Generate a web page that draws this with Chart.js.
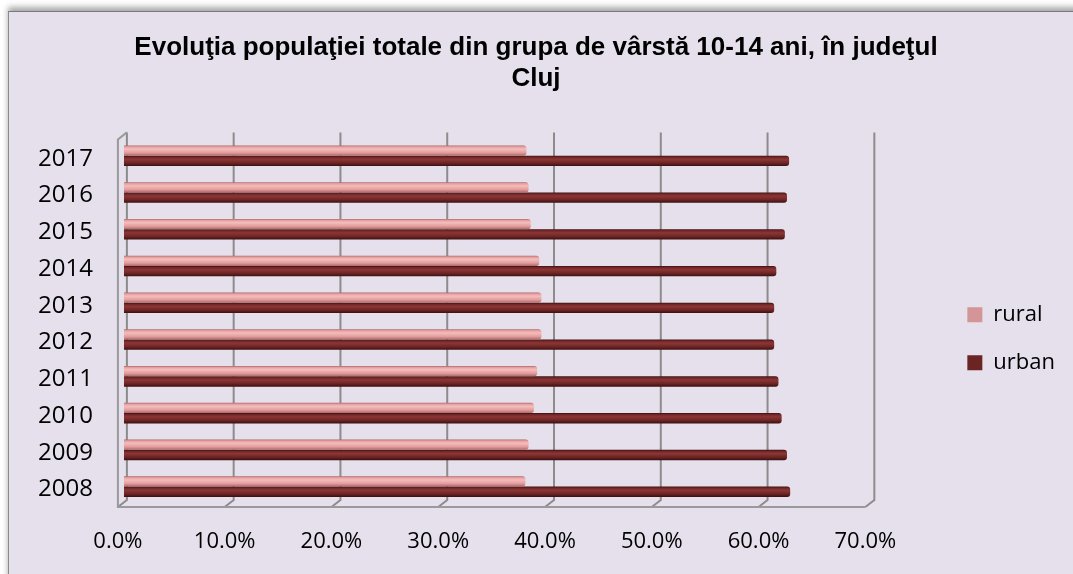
<!DOCTYPE html>
<html>
<head>
<meta charset="utf-8">
<script src="https://cdn.jsdelivr.net/npm/chart.js@4.4.1/dist/chart.umd.min.js"></script>
<style>
  html, body { margin: 0; padding: 0; width: 1073px; height: 574px; overflow: hidden; background: #fff; }
  #frame {
    position: absolute; left: 8px; top: 11px; width: 1100px; height: 600px;
    background: #E5E0EC;
    border-left: 1px solid #8a8a8a; border-top: 1px solid #7a7a7a;
    box-shadow: 0 -4px 6px rgba(0, 0, 0, 0.35);
  }
  #wrap { position: absolute; left: 0; top: 0; width: 1073px; height: 574px; }
</style>
</head>
<body>
<div id="frame"></div>
<div id="wrap"><canvas id="chart"></canvas></div>
<script>
const years = ['2008', '2009', '2010', '2011', '2012', '2013', '2014', '2015', '2016', '2017'];
const rural = [37.6, 37.9, 38.4, 38.7, 39.1, 39.1, 38.9, 38.1, 37.9, 37.7];
const urban = [62.4, 62.1, 61.6, 61.3, 60.9, 60.9, 61.1, 61.9, 62.1, 62.3];
const xTickLabels = ['0.0%', '10.0%', '20.0%', '30.0%', '40.0%', '50.0%', '60.0%', '70.0%'];
const legendColors = ['#D39595', '#6B2424'];

const sans = "'Open Sans', sans-serif";

// cylinder-ish shading across each bar
function barFill(light, mid, dark) {
  return (c) => {
    const el = c.element;
    if (!el || el.y == null || !isFinite(el.y)) return mid;
    const h = el.height || 10;
    const g = c.chart.ctx.createLinearGradient(0, el.y - h / 2, 0, el.y + h / 2);
    g.addColorStop(0, dark);
    g.addColorStop(0.12, mid);
    g.addColorStop(0.35, light);
    g.addColorStop(0.7, mid);
    g.addColorStop(1, dark);
    return g;
  };
}

// back walls, gridlines and floor edge of the 3D plot box
const frame3d = {
  id: 'frame3d',
  beforeDatasetsDraw(chart) {
    const { ctx, chartArea: a, scales: { x } } = chart;
    const back = 3, front = -6;
    const backTop = a.top - 5, backBottom = a.bottom - 5, frontBottom = a.bottom + 2;
    const x0 = x.getPixelForValue(x.min), x1 = x.getPixelForValue(x.max);
    ctx.save();
    ctx.lineWidth = 2;
    ctx.strokeStyle = '#8c8c8c';
    x.ticks.forEach(t => {
      const px = x.getPixelForValue(t.value);
      ctx.beginPath();
      ctx.moveTo(px + back, backTop);
      ctx.lineTo(px + back, backBottom);
      ctx.lineTo(px + front, frontBottom);
      ctx.stroke();
    });
    ctx.strokeStyle = '#9a9a9a';
    ctx.beginPath();
    ctx.moveTo(x0 + back, backTop);
    ctx.lineTo(x0 + front, backTop + 7);
    ctx.lineTo(x0 + front, frontBottom);
    ctx.lineTo(x1 + front, frontBottom);
    ctx.stroke();
    ctx.restore();
  }
};

const chart = new Chart(document.getElementById('chart'), {
  type: 'bar',
  data: {
    labels: years,
    datasets: [
      {
        label: 'rural',
        data: rural,
        backgroundColor: barFill('#F4BDBD', '#E49C9C', '#A86868'),
        borderWidth: 0,
        borderRadius: { topRight: 3, bottomRight: 3 },
        borderSkipped: 'start'
      },
      {
        label: 'urban',
        data: urban,
        backgroundColor: barFill('#8C3636', '#6E2525', '#3C0F0F'),
        borderWidth: 0,
        borderRadius: { topRight: 3, bottomRight: 3 },
        borderSkipped: 'start'
      }
    ]
  },
  options: {
    indexAxis: 'y',
    responsive: true,
    maintainAspectRatio: false,
    animation: false,
    layout: { padding: { left: 7, right: 8, top: 0, bottom: 0 } },
    datasets: { bar: { categoryPercentage: 0.56, barPercentage: 1 } },
    scales: {
      x: {
        min: 0,
        max: 70,
        ticks: {
          stepSize: 10,
          padding: 24,
          labelOffset: -6,
          color: '#000',
          font: { family: sans, size: 22 },
          callback: (v, i) => xTickLabels[i]
        },
        grid: { display: false, drawTicks: false },
        border: { display: false },
        afterFit: (s) => { s.height = 69; }
      },
      y: {
        reverse: true,
        ticks: { padding: 31, labelOffset: 3, color: '#000', font: { family: sans, size: 24 } },
        grid: { display: false, drawTicks: false },
        border: { display: false }
      },
      y2: {
        type: 'category',
        labels: years,
        position: 'right',
        ticks: { display: false },
        grid: { display: false, drawTicks: false },
        border: { display: false },
        afterFit: (s) => { s.width = 70; }
      }
    },
    plugins: {
      title: {
        display: true,
        text: ['Evoluţia populaţiei totale din grupa de vârstă 10-14 ani, în judeţul', 'Cluj'],
        color: '#000',
        font: { family: "'Liberation Sans', Arial, sans-serif", size: 26, weight: 'bold', lineHeight: 1.2 },
        padding: { top: 32, bottom: 43 }
      },
      legend: {
        position: 'right',
        fullSize: false,
        title: { display: true, text: '', font: { size: 10 }, padding: { top: 23, bottom: 0 } },
        labels: {
          boxWidth: 15,
          boxHeight: 15,
          padding: 26,
          color: '#000',
          font: { family: sans, size: 22 },
          generateLabels: (c) => Chart.defaults.plugins.legend.labels.generateLabels(c).map(l => ({
            ...l, fillStyle: legendColors[l.datasetIndex], strokeStyle: legendColors[l.datasetIndex], lineWidth: 0
          }))
        }
      },
      tooltip: { enabled: false }
    }
  },
  plugins: [frame3d]
});
chart.update('none');
</script>
</body>
</html>
